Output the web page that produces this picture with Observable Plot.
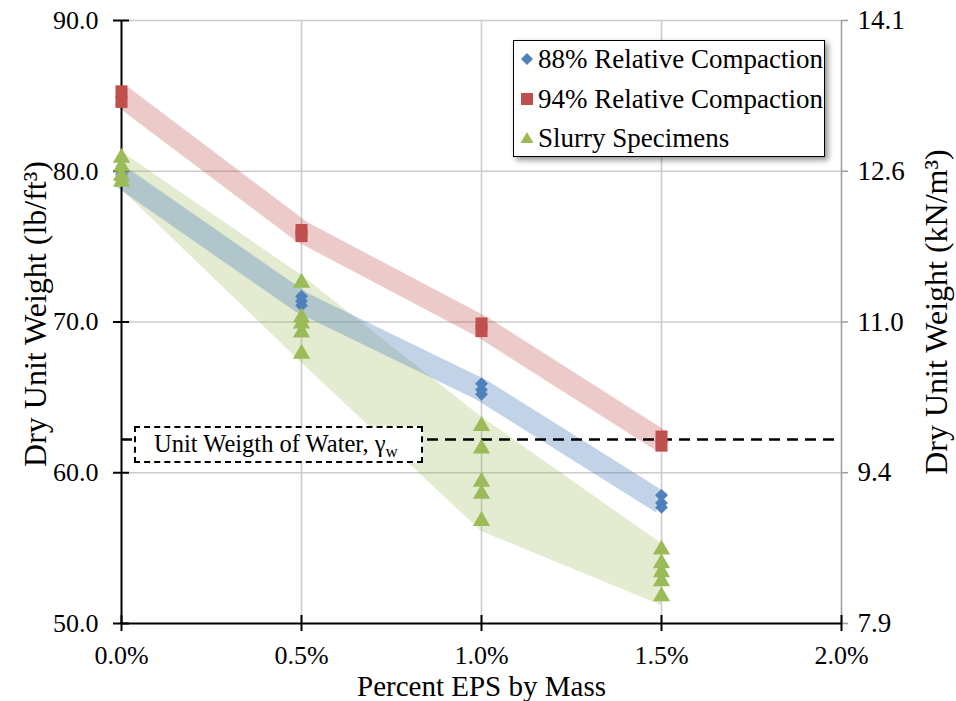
<!DOCTYPE html>
<html><head><meta charset="utf-8">
<script src="https://cdn.jsdelivr.net/npm/d3@7"></script>
<script src="https://cdn.jsdelivr.net/npm/@observablehq/plot@0.6"></script>
<style>
html,body{margin:0;padding:0;background:#fff;}
#wrap{position:relative;width:956px;height:701px;font-family:"Liberation Serif","Times New Roman",serif;color:#000;}
#chart svg{display:block;}
.legend{position:absolute;left:513px;top:40px;width:312px;height:117px;border:1.5px solid #000;background:#fff;box-shadow:3px 3px 6px rgba(0,0,0,0.45);box-sizing:border-box;}
.legend .row{position:absolute;left:6px;height:30px;display:flex;align-items:center;font-size:27px;white-space:nowrap;}
.legend .row svg{margin-right:4px;}
.water{position:absolute;left:134px;top:426px;width:289px;height:37px;border:2.5px dashed #000;background:#fff;box-sizing:border-box;font-size:24.5px;line-height:32px;padding-left:18px;white-space:nowrap;}
.water sub{font-size:17px;vertical-align:-5px;line-height:0;}
</style>
</head><body>
<div id="wrap"><div id="chart"></div></div>
<script>
// ---- data ----
const xTicks = [0, 0.5, 1.0, 1.5, 2.0];
const yTicks = [50, 60, 70, 80, 90];
const pctEPS = [0, 0.5, 1.0, 1.5];
const rc88 = [[79.4, 79.8], [71.1, 71.4, 71.7], [65.2, 65.5, 65.9], [57.7, 58.0, 58.5]];
const rc94 = [[84.6, 85.3], [75.7, 76.1], [69.4, 69.9], [61.8, 62.4]];
const slurry = [[79.3, 79.7, 80.3, 80.9], [67.9, 69.3, 69.9, 70.3, 72.6], [56.8, 58.6, 59.4, 61.6, 63.1], [51.8, 52.8, 53.4, 54.0, 54.9]];
const band88 = [79.6, 71.3, 65.5, 58.0];
const band94 = [85.0, 76.0, 69.7, 62.1];
const slurryUpper = [81.3, 73.1, 63.7, 55.3];
const slurryLower = [78.8, 67.3, 56.1, 51.2];
const waterUnitWeight = 62.2;
const kNperPcf = 0.157087;
const seriesNames = ["88% Relative Compaction", "94% Relative Compaction", "Slurry Specimens"];
const colors = {rc88: "#4F81BD", rc94: "#C0504D", slurry: "#9BBB59"};

const flat = (arr) => arr.flatMap((vals, i) => vals.map(v => ({x: pctEPS[i], y: v})));
const pts88 = flat(rc88), pts94 = flat(rc94), ptsS = flat(slurry);
const b88 = pctEPS.map((x, i) => ({x, y: band88[i]}));
const b94 = pctEPS.map((x, i) => ({x, y: band94[i]}));
const bS = pctEPS.map((x, i) => ({x, y1: slurryLower[i], y2: slurryUpper[i]}));

const font = "Liberation Serif";
const plot = Plot.plot({
  width: 956, height: 701,
  marginLeft: 121, marginRight: 115, marginTop: 20, marginBottom: 78,
  style: {fontFamily: font, fontSize: "26px", background: "transparent", color: "#000"},
  x: {domain: [0, 2], axis: null},
  y: {domain: [50, 90], axis: null},
  marks: [
    Plot.ruleX([0.5, 1.0, 1.5], {stroke: "#cccccc", strokeWidth: 1.6}),
    Plot.ruleY([60, 70, 80, 90], {stroke: "#cccccc", strokeWidth: 1.6}),
    Plot.areaY(bS, {x: "x", y1: "y1", y2: "y2", fill: colors.slurry, fillOpacity: 0.28}),
    Plot.line(b88, {x: "x", y: "y", stroke: colors.rc88, strokeOpacity: 0.35, strokeWidth: 22, strokeLinecap: "butt"}),
    Plot.line(b94, {x: "x", y: "y", stroke: colors.rc94, strokeOpacity: 0.3, strokeWidth: 22, strokeLinecap: "butt"}),
    Plot.ruleY([waterUnitWeight], {x1: 0, x2: 2, stroke: "#000", strokeWidth: 2.5, strokeDasharray: "11,7"}),
    // axes lines
    Plot.ruleX([2], {y1: 50, y2: 90, stroke: "#a0a0a0", strokeWidth: 1.6}),
    Plot.ruleY(yTicks, {x1: 2, x2: 2, insetRight: -7, stroke: "#a0a0a0", strokeWidth: 1.6}),
    Plot.ruleX([0], {y1: 50, y2: 90, stroke: "#000", strokeWidth: 2}),
    Plot.ruleY([50], {x1: 0, x2: 2, stroke: "#000", strokeWidth: 2}),
    Plot.ruleY(yTicks, {x1: 0, x2: 0, insetLeft: -8, insetRight: -8, stroke: "#000", strokeWidth: 2}),
    Plot.ruleX(xTicks, {y1: 50, y2: 50, insetTop: -8, insetBottom: -8, stroke: "#000", strokeWidth: 2}),
    // data points
    Plot.dot(pts88, {x: "x", y: "y", symbol: "diamond2", r: 5.8, fill: colors.rc88}),
    Plot.dot(pts94, {x: "x", y: "y", symbol: "square", r: 6.8, fill: colors.rc94}),
    Plot.dot(ptsS, {x: "x", y: "y", symbol: "triangle", r: 6.4, fill: colors.slurry}),
    // tick labels
    Plot.text(yTicks, {x: 0, y: d => d, text: d => d.toFixed(1), textAnchor: "end", dx: -23, fontSize: 26}),
    Plot.text(yTicks, {x: 2, y: d => d, text: d => (d * kNperPcf).toFixed(1), textAnchor: "start", dx: 16, fontSize: 27}),
    Plot.text(xTicks, {x: d => d, y: 50, text: d => d.toFixed(1) + "%", dy: 32, fontSize: 26}),
    // axis titles
    Plot.text(["Dry Unit Weight (lb/ft³)"], {frameAnchor: "left", textAnchor: "middle", lineAnchor: "middle", dx: -86, dy: -8, rotate: -90, fontSize: 32}),
    Plot.text(["Dry Unit Weight (kN/m³)"], {frameAnchor: "right", textAnchor: "middle", lineAnchor: "middle", dx: 95, dy: -10, rotate: -90, fontSize: 32}),
    Plot.text(["Percent EPS by Mass"], {frameAnchor: "bottom", textAnchor: "middle", lineAnchor: "middle", dy: 63, fontSize: 29})
  ]
});
document.getElementById("chart").appendChild(plot);

// legend
const wrap = document.getElementById("wrap");
const legend = document.createElement("div");
legend.className = "legend";
const sym = [
  `<svg width="14" height="14" viewBox="-7 -7 14 14"><path d="M0,-6L6,0L0,6L-6,0Z" fill="${colors.rc88}"/></svg>`,
  `<svg width="14" height="14" viewBox="-7 -7 14 14"><rect x="-6" y="-6" width="12" height="12" fill="${colors.rc94}"/></svg>`,
  `<svg width="14" height="14" viewBox="-7 -7 14 14"><path d="M0,-6L6.5,5L-6.5,5Z" fill="${colors.slurry}"/></svg>`
];
const tops = [3, 43, 82];
seriesNames.forEach((name, i) => {
  const r = document.createElement("div");
  r.className = "row";
  r.style.top = tops[i] + "px";
  r.innerHTML = sym[i] + `<span>${name}</span>`;
  legend.appendChild(r);
});
wrap.appendChild(legend);

// water label
const water = document.createElement("div");
water.className = "water";
water.innerHTML = "Unit Weigth of Water, γ<sub>w</sub>";
wrap.appendChild(water);
</script>
</body></html>
